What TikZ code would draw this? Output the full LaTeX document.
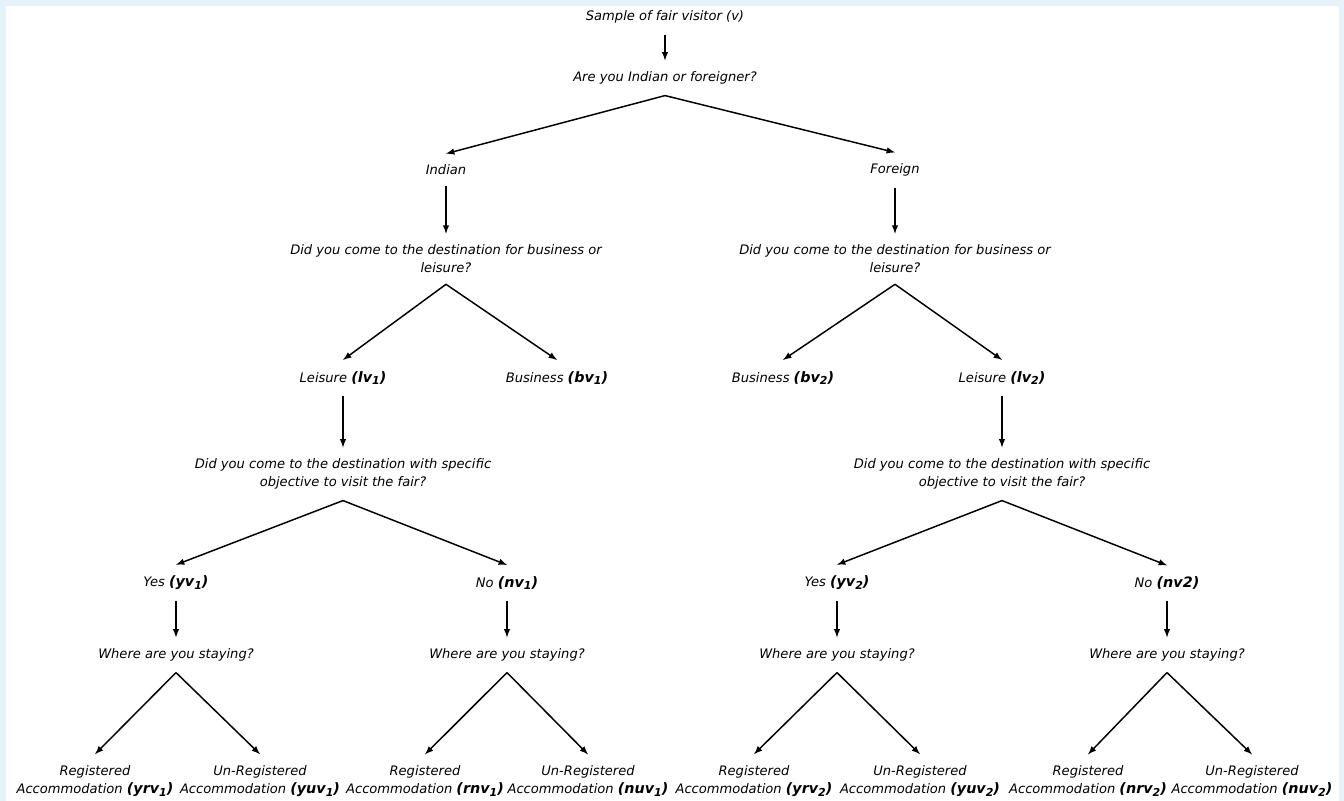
\documentclass[tikz,border=0pt]{standalone}
\usepackage{fontspec}
\setmainfont{DejaVu Sans}
\usepackage{xcolor}
\usetikzlibrary{arrows}
\definecolor{framebl}{RGB}{229, 242, 249}

\tikzset{
 lbl/.style={font=\itshape\fontsize{9.3pt}{12.8pt}\selectfont, align=center, inner sep=2pt, outer ysep=6pt},
 arr/.style={-latex, line width=1.05pt}
}
\newcommand{\bsub}[2]{{\bfseries\fontsize{10.2pt}{12.8pt}\selectfont(#1\raisebox{-0.35ex}{\fontsize{7.8pt}{8pt}\selectfont #2})}}

\begin{document}
\begin{tikzpicture}[x=0.025cm, y=-0.025cm]

 %frame
 \fill[framebl] (0,0) rectangle (1344,801);
 \fill[white] (6,6) rectangle (1339,801);
 \useasboundingbox (0,0) rectangle (1344,801);

 %top
 \node[lbl] (smp) at (665,17) {Sample of fair visitor (v)};
 \node[lbl] (qnat) at (665,78) {Are you Indian or foreigner?};
 \node[lbl] (ind) at (446,170) {Indian};
 \node[lbl] (frn) at (895,170) {Foreign};

 %business or leisure
 \node[lbl] (qbl1) at (446,259) {Did you come to the destination for business or\\ leisure?};
 \node[lbl] (qbl2) at (895,259) {Did you come to the destination for business or\\ leisure?};
 \node[lbl] (lv1) at (343,378) {Leisure \bsub{lv}{1}};
 \node[lbl] (bv1) at (557,378) {Business \bsub{bv}{1}};
 \node[lbl] (bv2) at (783,378) {Business \bsub{bv}{2}};
 \node[lbl] (lv2) at (1002,378) {Leisure \bsub{lv}{2}};

 %objective
 \node[lbl] (qob1) at (343,474) {Did you come to the destination with specific\\ objective to visit the fair?};
 \node[lbl] (qob2) at (1002,474) {Did you come to the destination with specific\\ objective to visit the fair?};
 \node[lbl] (yv1) at (176,583) {Yes \bsub{yv}{1}};
 \node[lbl] (nv1) at (507,583) {No \bsub{nv}{1}};
 \node[lbl] (yv2) at (837,583) {Yes \bsub{yv}{2}};
 \node[lbl] (nv2) at (1167,583) {No {\bfseries\fontsize{10.2pt}{12.8pt}\selectfont(nv2)}};

 %staying
 \node[lbl] (wst1) at (176,655) {Where are you staying?};
 \node[lbl] (wst2) at (507,655) {Where are you staying?};
 \node[lbl] (wst3) at (837,655) {Where are you staying?};
 \node[lbl] (wst4) at (1167,655) {Where are you staying?};

 \node[lbl] (yrv1) at (95,781) {Registered\\ Accommodation \bsub{yrv}{1}};
 \node[lbl] (yuv1) at (260,781) {Un-Registered\\ Accommodation \bsub{yuv}{1}};
 \node[lbl] (rnv1) at (425,781) {Registered\\ Accommodation \bsub{rnv}{1}};
 \node[lbl] (nuv1) at (588,781) {Un-Registered\\ Accommodation \bsub{nuv}{1}};
 \node[lbl] (yrv2) at (754,781) {Registered\\ Accommodation \bsub{yrv}{2}};
 \node[lbl] (yuv2) at (920,781) {Un-Registered\\ Accommodation \bsub{yuv}{2}};
 \node[lbl] (nrv2) at (1088,781) {Registered\\ Accommodation \bsub{nrv}{2}};
 \node[lbl] (nuv2) at (1252,781) {Un-Registered\\ Accommodation \bsub{nuv}{2}};

 %arrows
 \draw[arr] (smp.south) -- (qnat.north);
 \draw[arr] (qnat.south) -- (ind.north);
 \draw[arr] (qnat.south) -- (frn.north);
 \draw[arr] (ind.south) -- (qbl1.north);
 \draw[arr] (frn.south) -- (qbl2.north);

 \draw[arr] (qbl1.south) -- (lv1.north);
 \draw[arr] (qbl1.south) -- (bv1.north);
 \draw[arr] (qbl2.south) -- (bv2.north);
 \draw[arr] (qbl2.south) -- (lv2.north);
 \draw[arr] (lv1.south) -- (qob1.north);
 \draw[arr] (lv2.south) -- (qob2.north);

 \draw[arr] (qob1.south) -- (yv1.north);
 \draw[arr] (qob1.south) -- (nv1.north);
 \draw[arr] (qob2.south) -- (yv2.north);
 \draw[arr] (qob2.south) -- (nv2.north);

 \draw[arr] (yv1.south) -- (wst1.north);
 \draw[arr] (nv1.south) -- (wst2.north);
 \draw[arr] (yv2.south) -- (wst3.north);
 \draw[arr] (nv2.south) -- (wst4.north);

 \draw[arr] (wst1.south) -- (yrv1.north);
 \draw[arr] (wst1.south) -- (yuv1.north);
 \draw[arr] (wst2.south) -- (rnv1.north);
 \draw[arr] (wst2.south) -- (nuv1.north);
 \draw[arr] (wst3.south) -- (yrv2.north);
 \draw[arr] (wst3.south) -- (yuv2.north);
 \draw[arr] (wst4.south) -- (nrv2.north);
 \draw[arr] (wst4.south) -- (nuv2.north);

\end{tikzpicture}
\end{document}
